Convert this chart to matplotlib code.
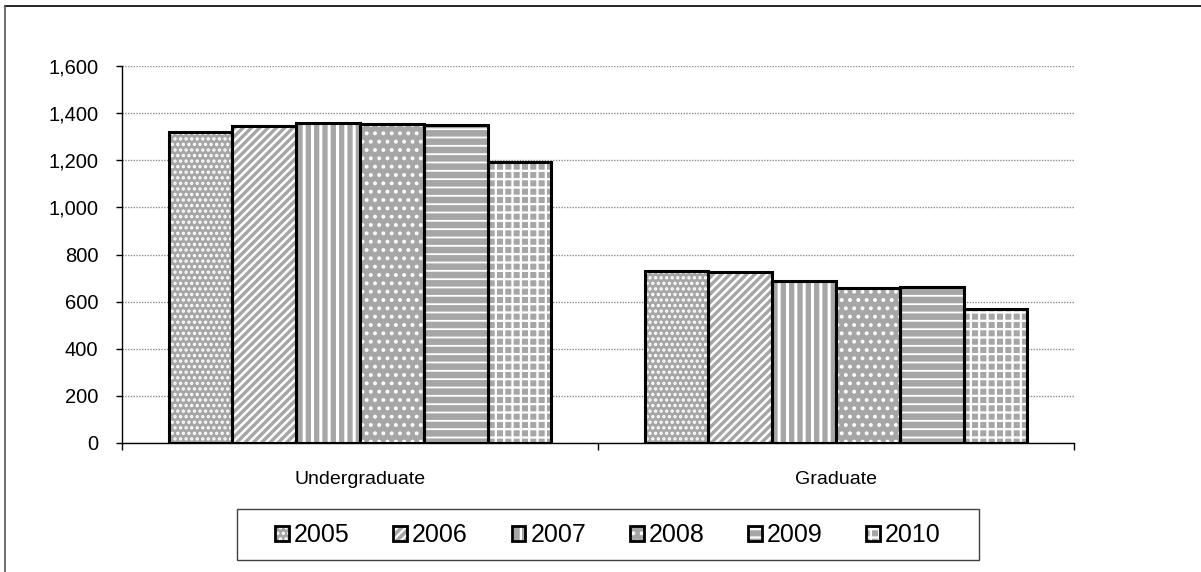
import matplotlib
matplotlib.use("Agg")
import matplotlib.pyplot as plt
from matplotlib.patches import Patch
from matplotlib.legend_handler import HandlerTuple
from matplotlib.lines import Line2D

plt.rcParams["font.family"] = ["Liberation Sans", "DejaVu Sans"]
plt.rcParams["hatch.color"] = "white"
plt.rcParams["hatch.linewidth"] = 1.6

categories = ["Undergraduate", "Graduate"]
years = ["2005", "2006", "2007", "2008", "2009", "2010"]
undergrad = [1322, 1345, 1360, 1353, 1351, 1191]
graduate = [731, 726, 689, 659, 663, 567]

FILL = "#a6a6a6"
HATCHES = ["...", "////", "||", "..", "--", "++"]
HATCH_LW = [1.6, 1.8, 2.2, 1.6, 1.3, 1.6]
BAR_W = 0.134

fig = plt.figure(figsize=(12.01, 5.72), dpi=100)
ax = fig.add_axes([122 / 1201, 129 / 572, 952 / 1201, 377 / 572])


def set_hlw(p, lw):
    if hasattr(p, "set_hatch_linewidth"):
        p.set_hatch_linewidth(lw)


handles = []
for i, yr in enumerate(years):
    vals = [undergrad[i], graduate[i]]
    xs = [c + (i - 2.5) * BAR_W for c in range(len(categories))]
    bars = ax.bar(xs, vals, width=BAR_W, color=FILL, edgecolor="white",
                  linewidth=0, hatch=HATCHES[i], zorder=2)
    for p in bars:
        set_hlw(p, HATCH_LW[i])
    ax.bar(xs, vals, width=BAR_W, fill=False, edgecolor="black",
           linewidth=2.2, zorder=3)
    h1 = Patch(facecolor=FILL, edgecolor="white", linewidth=0, hatch=HATCHES[i])
    set_hlw(h1, HATCH_LW[i])
    h2 = Patch(fill=False, edgecolor="black", linewidth=2.0)
    handles.append((h1, h2))

ax.set_xlim(-0.5, 1.5)
ax.set_ylim(0, 1600)
ax.set_yticks(range(0, 1601, 200))
ax.set_yticklabels([f"{v:,}" for v in range(0, 1601, 200)])
ax.set_xticks([-0.5, 0.5, 1.5])
ax.set_xticklabels([])
ax.set_xticks([0, 1], minor=True)
ax.set_xticklabels(categories, minor=True)

ax.tick_params(axis="y", direction="out", length=4, width=1, pad=13, labelsize=14.5)
ax.tick_params(axis="x", which="major", direction="out", length=5, width=1)
ax.tick_params(axis="x", which="minor", length=0, pad=20, labelsize=14)

ax.grid(axis="y", color="#8c8c8c", linestyle=(0, (1, 1)), linewidth=1, zorder=0)
ax.set_axisbelow(True)
for s in ["top", "right"]:
    ax.spines[s].set_visible(False)
ax.spines["left"].set_linewidth(1)
ax.spines["bottom"].set_linewidth(1)

leg = fig.legend(handles, years, handler_map={tuple: HandlerTuple(ndivide=1, pad=0)},
                 loc="center", bbox_to_anchor=(608 / 1201, 1 - 535 / 572), ncol=6,
                 frameon=False, fontsize=18, handlelength=0.55, handleheight=0.55,
                 handletextpad=0.2, columnspacing=1.75)

# legend frame and figure border
fig.patches.append(plt.Rectangle((237 / 1201, 1 - 560 / 572), 742 / 1201, 51 / 572,
                                 transform=fig.transFigure, fill=False,
                                 edgecolor="#404040", linewidth=1))
fig.lines.append(Line2D([5 / 1201, 1], [1 - 6 / 572, 1 - 6 / 572],
                        transform=fig.transFigure, color="black", linewidth=1.2))
fig.lines.append(Line2D([5 / 1201, 5 / 1201], [0, 1 - 6 / 572],
                        transform=fig.transFigure, color="#555555", linewidth=1.2))

fig.savefig("out.png", dpi=100)
